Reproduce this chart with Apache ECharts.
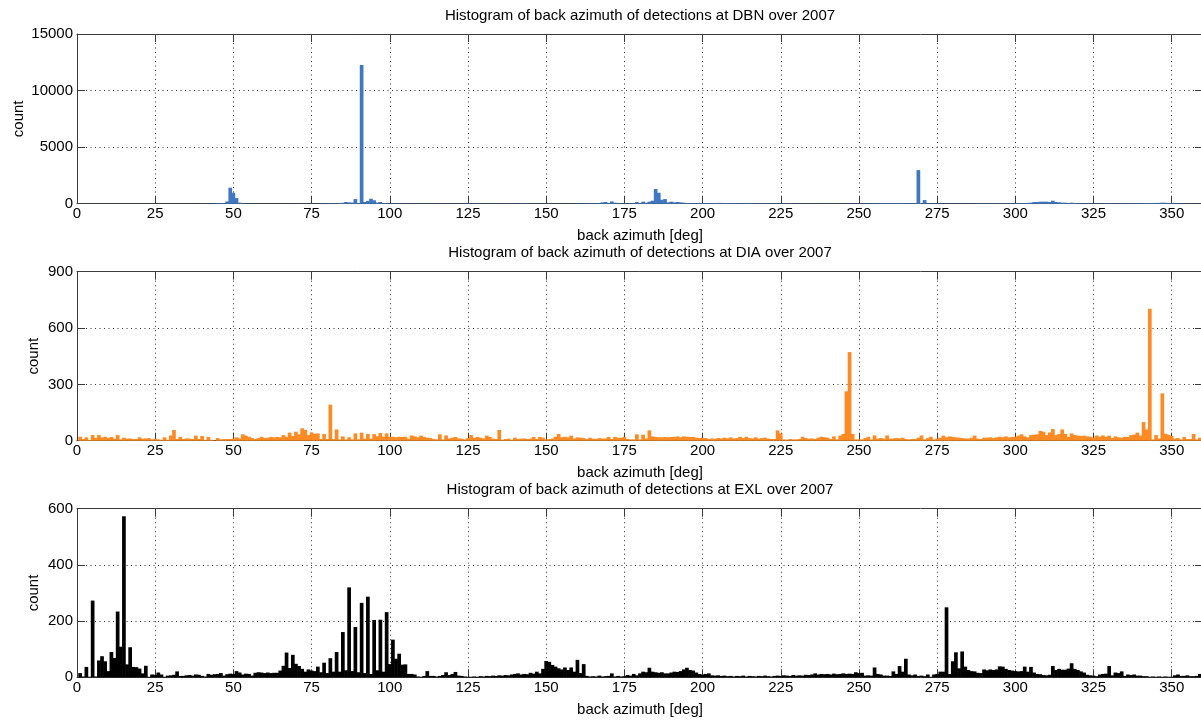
<!DOCTYPE html>
<html>
<head>
<meta charset="utf-8">
<script src="https://cdn.jsdelivr.net/npm/echarts@6/dist/echarts.min.js"></script>
<style>
html,body{margin:0;padding:0;background:#fff;}
#chart{width:1201px;height:720px;}
</style>
</head>
<body>
<div id="chart"></div>
<script>
// ---------------- DATA ----------------
// bin centres: 1-degree bins, centred on 1..360 deg
const azimuthBins = Array.from({length: 360}, (_, i) => i + 1);

const panelTitles = [
  'Histogram of back azimuth of detections at DBN over 2007',
  'Histogram of back azimuth of detections at DIA over 2007',
  'Histogram of back azimuth of detections at EXL over 2007'
];
const xAxisName = 'back azimuth [deg]';
const yAxisName = 'count';

const yMax = [15000, 900, 600];
const yStep = [5000, 300, 200];
const xMax = 360;
const xStep = 25;

const dbnCounts = [
  5,4,6,3,5,4,6,5,3,4,
  5,3,4,6,4,5,3,4,5,6,
  4,5,3,6,5,4,6,5,4,5,
  6,4,5,7,5,6,8,6,7,10,
  12,15,20,30,40,50,60,200,1415,970,
  500,90,30,15,10,8,6,7,5,6,
  5,6,7,5,6,8,7,6,8,9,
  10,8,12,10,15,12,18,20,25,30,
  35,40,30,60,80,150,120,100,410,60,
  12260,150,250,440,300,100,150,60,40,30,
  25,30,20,25,18,22,20,15,18,20,
  15,18,20,16,14,18,15,20,22,18,
  20,25,22,18,20,24,26,20,18,16,
  15,18,20,16,14,15,18,20,24,22,
  20,25,30,26,22,20,18,15,16,14,
  12,14,15,12,10,12,14,15,18,20,
  22,25,30,35,40,45,50,120,150,60,
  200,90,40,30,25,30,40,50,150,60,
  180,90,180,265,1300,970,350,410,120,180,
  120,150,120,90,60,50,45,40,50,60,
  55,50,45,60,65,70,60,55,50,45,
  50,45,40,45,50,40,35,30,35,30,
  25,30,28,25,30,28,25,22,20,25,
  22,20,18,22,20,18,15,18,20,22,
  20,18,22,20,18,16,20,22,24,20,
  25,28,30,35,40,45,50,55,50,45,
  50,55,60,55,50,45,50,60,2970,30,
  320,40,30,28,25,22,20,25,22,20,
  22,20,18,22,25,20,22,25,28,30,
  25,28,30,32,35,30,32,35,38,40,
  40,50,60,70,90,150,150,180,180,180,
  150,265,150,120,90,90,60,90,50,45,
  40,35,38,35,30,32,30,28,30,35,
  32,30,28,30,35,38,40,35,40,45,
  50,60,55,65,70,75,90,80,60,50,
  40,35,20,18,15,12,10,12,15,10
];

const diaCounts = [
  21,9,18,4,30,14,30,18,21,14,
  20,11,30,7,16,11,12,9,9,18,
  11,12,14,7,11,7,5,18,5,28,
  57,9,20,9,12,11,9,27,9,25,
  5,20,5,2,14,7,9,9,9,11,
  18,12,34,27,21,14,9,14,21,14,
  16,20,18,20,18,30,21,43,25,48,
  34,66,57,30,44,37,39,9,36,9,
  192,9,60,7,23,7,18,7,39,7,
  43,11,36,11,35,24,41,21,39,21,
  21,18,21,20,21,11,28,23,18,27,
  20,16,14,9,7,34,7,28,12,16,
  20,12,11,7,14,30,14,20,16,12,
  27,20,11,9,57,5,9,11,5,16,
  9,11,12,9,11,20,9,20,16,7,
  9,11,21,36,18,21,18,27,12,18,
  16,14,9,16,11,9,14,11,12,20,
  9,20,16,16,21,9,7,7,34,7,
  32,12,55,23,20,18,18,20,18,20,
  20,23,18,23,21,20,20,16,14,16,
  14,9,12,11,14,12,16,12,18,12,
  14,21,14,21,14,12,18,11,14,16,
  11,9,9,55,39,7,5,9,7,7,
  9,21,14,11,12,9,16,21,18,16,
  9,23,7,27,36,263,472,36,7,7,
  7,14,21,7,28,11,14,11,28,11,
  12,14,12,16,9,7,9,9,16,28,
  7,14,21,7,11,16,27,18,23,20,
  18,16,14,12,11,16,27,11,9,16,
  16,18,14,18,21,18,23,18,20,21,
  27,34,23,18,30,32,34,52,48,30,
  44,62,30,36,60,36,21,39,30,27,
  25,27,23,21,16,28,21,28,21,27,
  14,23,18,16,21,20,30,32,43,27,
  99,60,703,7,30,12,252,37,32,25,
  11,14,7,20,9,9,36,7,16,21
];

const exlCounts = [
  15,3,37,2,273,3,60,75,57,22,
  90,69,234,109,573,46,107,37,36,31,
  14,41,2,10,9,17,10,2,6,7,
  9,21,5,5,7,8,6,10,9,5,
  3,12,9,11,12,15,6,11,13,12,
  22,17,10,13,12,6,16,18,17,15,
  17,15,16,16,24,41,88,33,80,48,
  40,30,20,28,24,22,38,18,52,15,
  68,20,90,20,161,25,320,22,179,18,
  265,15,287,12,204,25,205,20,232,47,
  134,66,84,45,46,12,12,10,3,2,
  5,22,5,5,3,5,8,18,8,12,
  19,6,5,3,2,2,3,2,4,3,
  5,4,6,5,7,6,8,7,10,12,
  14,10,12,11,16,13,20,14,30,58,
  55,44,38,32,28,35,26,35,20,62,
  15,47,5,3,4,3,6,3,4,5,
  14,3,5,3,4,8,6,12,7,14,
  20,18,34,20,18,16,18,14,14,17,
  20,19,22,28,34,26,24,17,12,10,
  12,14,7,6,7,5,6,4,5,3,
  5,4,6,3,5,4,3,5,4,6,
  4,3,5,6,5,7,6,5,8,6,
  7,6,9,8,10,14,10,12,11,12,
  10,13,11,12,14,12,13,12,18,15,
  16,6,7,6,35,12,10,6,6,5,
  21,12,40,20,66,10,7,10,5,6,
  4,10,2,10,12,20,20,249,12,57,
  89,32,92,38,26,22,21,16,15,28,
  25,28,26,28,39,38,30,26,24,22,
  21,22,38,20,37,17,12,11,8,7,
  9,40,26,30,27,27,31,50,30,26,
  21,17,9,7,6,4,10,12,13,40,
  7,17,15,21,5,10,8,10,6,6,
  4,4,2,3,2,3,2,3,2,2,
  7,10,5,5,7,4,4,5,12,5
];

const panelCounts = [dbnCounts, diaCounts, exlCounts];
const barColors = ['#3f77c2', '#fd8a22', '#000000'];

// ---------------- LAYOUT / STYLE ----------------
const FONT = '"Liberation Sans", Arial, Helvetica, sans-serif';
const AX = '#3a3a3a';
const gridTops = [34, 271.7, 508.7];
const gridHeights = [169.7, 169, 168.6];
const yNameGaps = [51, 36, 36];
const titleTops = [8, 245, 482];

const grid = [], xAxis = [], yAxis = [], series = [], title = [];

for (let i = 0; i < 3; i++) {
  grid.push({left: 77, right: -2, top: gridTops[i], height: gridHeights[i], outerBoundsMode: 'none', containLabel: false});
  title.push({
    text: panelTitles[i], left: 640, top: titleTops[i], padding: 0,
    textAlign: 'center', textVerticalAlign: 'top',
    textStyle: {fontFamily: FONT, fontSize: 15, fontWeight: 'normal', color: '#000'}
  });
  const tickCommon = {show: true, inside: true, length: 8, lineStyle: {color: AX, width: 1}};
  const lineCommon = {show: true, onZero: false, lineStyle: {color: AX, width: 1}};
  const gridDots = {show: true, lineStyle: {color: '#333', width: 1, type: [1, 3.5]}};
  xAxis.push({
    gridIndex: i, type: 'value', min: 0, max: xMax, interval: xStep, position: 'bottom',
    name: xAxisName, nameLocation: 'middle', nameGap: 25,
    nameTextStyle: {fontFamily: FONT, fontSize: 15, color: '#000'},
    axisLine: lineCommon, axisTick: tickCommon,
    axisLabel: {show: true, fontFamily: FONT, fontSize: 15, color: '#000', margin: 3, showMaxLabel: false,
                formatter: v => String(v)},
    splitLine: gridDots
  });
  xAxis.push({
    gridIndex: i, type: 'value', min: 0, max: xMax, interval: xStep, position: 'top',
    axisLine: lineCommon, axisTick: tickCommon, axisLabel: {show: false}, splitLine: {show: false}
  });
  yAxis.push({
    gridIndex: i, type: 'value', min: 0, max: yMax[i], interval: yStep[i], position: 'left',
    name: yAxisName, nameLocation: 'middle', nameGap: yNameGaps[i], nameRotate: 90, nameMoveOverlap: false,
    nameTextStyle: {fontFamily: FONT, fontSize: 15, color: '#000'},
    axisLine: lineCommon, axisTick: tickCommon,
    axisLabel: {show: true, fontFamily: FONT, fontSize: 15, color: '#000', margin: 4,
                formatter: v => String(v)},
    splitLine: gridDots
  });
  yAxis.push({
    gridIndex: i, type: 'value', min: 0, max: yMax[i], interval: yStep[i], position: 'right',
    axisLine: lineCommon, axisTick: tickCommon, axisLabel: {show: false}, splitLine: {show: false}
  });
  series.push({
    type: 'bar', xAxisIndex: 2 * i, yAxisIndex: 2 * i,
    data: azimuthBins.map((b, k) => [b, panelCounts[i][k]]),
    barWidth: 3.7,
    barGap: '-100%',
    itemStyle: {color: barColors[i], borderWidth: 0},
    silent: true, animation: false
  });
}

const chart = echarts.init(document.getElementById('chart'), null, {renderer: 'canvas'});
chart.setOption({
  backgroundColor: '#fff',
  animation: false,
  title, grid, xAxis, yAxis, series
});
</script>
</body>
</html>
